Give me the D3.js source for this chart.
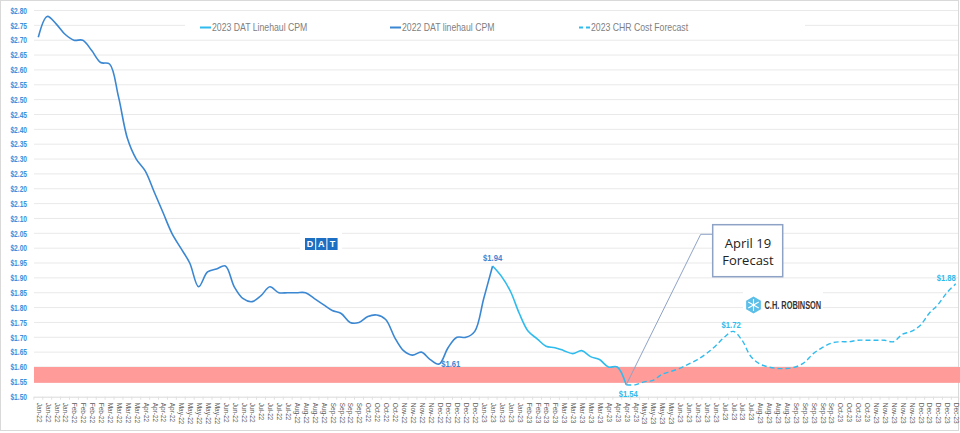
<!DOCTYPE html>
<html><head><meta charset="utf-8">
<script src="https://cdn.jsdelivr.net/npm/d3@7"></script>
<style>body{margin:0;background:#fff}svg{display:block}</style>
</head><body><svg id="c" width="960" height="433"></svg>
<script>
// ---------- DATA ----------
const weekLabels = [
"Jan-22","Jan-22","Jan-22","Jan-22","Feb-22","Feb-22","Feb-22","Feb-22",
"Mar-22","Mar-22","Mar-22","Mar-22","Apr-22","Apr-22","Apr-22","Apr-22",
"May-22","May-22","May-22","May-22","May-22","Jun-22","Jun-22","Jun-22","Jun-22",
"Jul-22","Jul-22","Jul-22","Jul-22","Aug-22","Aug-22","Aug-22","Aug-22",
"Sep-22","Sep-22","Sep-22","Sep-22","Oct-22","Oct-22","Oct-22","Oct-22",
"Nov-22","Nov-22","Nov-22","Nov-22","Dec-22","Dec-22","Dec-22","Dec-22","Dec-22",
"Jan-23","Jan-23","Jan-23","Jan-23","Jan-23","Feb-23","Feb-23","Feb-23","Feb-23",
"Mar-23","Mar-23","Mar-23","Mar-23","Mar-23","Apr-23","Apr-23","Apr-23","Apr-23",
"May-23","May-23","May-23","May-23","Jun-23","Jun-23","Jun-23","Jun-23","Jun-23",
"Jul-23","Jul-23","Jul-23","Jul-23","Aug-23","Aug-23","Aug-23","Aug-23",
"Sep-23","Sep-23","Sep-23","Sep-23","Sep-23","Oct-23","Oct-23","Oct-23","Oct-23",
"Nov-23","Nov-23","Nov-23","Nov-23","Nov-23","Dec-23","Dec-23","Dec-23","Dec-23","Dec-23"
];
// 2022 DAT linehaul CPM, weeks 0..51
const dat2022 = [2.71,2.78,2.755,2.72,2.70,2.70,2.665,2.625,2.62,2.51,2.37,2.30,2.26,2.19,2.12,2.05,
2.00,1.95,1.87,1.92,1.93,1.94,1.87,1.83,1.82,1.84,1.87,1.85,1.85,1.85,1.85,1.83,1.81,1.79,1.78,
1.75,1.75,1.77,1.775,1.76,1.70,1.655,1.64,1.65,1.625,1.61,1.665,1.70,1.70,1.72,1.83,1.94];
// 2023 DAT linehaul CPM, starting at week index 51
const dat2023Start = 51;
const dat2023 = [1.94,1.905,1.855,1.78,1.72,1.695,1.67,1.665,1.655,1.645,1.655,1.635,1.625,1.60,1.60,1.54];
// 2023 CHR cost forecast, starting at week index 66
const forecastStart = 66;
const forecast = [1.54,1.54,1.55,1.555,1.575,1.585,1.595,1.61,1.625,1.645,1.67,1.70,1.72,1.69,1.635,1.61,
1.60,1.595,1.595,1.60,1.615,1.645,1.665,1.68,1.685,1.685,1.69,1.69,1.69,1.69,1.685,1.71,1.72,1.74,1.78,1.81,1.85,1.88];
const yTicks = [1.50,1.55,1.60,1.65,1.70,1.75,1.80,1.85,1.90,1.95,2.00,2.05,2.10,2.15,2.20,2.25,2.30,2.35,2.40,2.45,2.50,2.55,2.60,2.65,2.70,2.75,2.80];
const bandRange = [1.55, 1.60];
const legendNames = ["2023 DAT Linehaul CPM","2022 DAT linehaul CPM","2023 CHR Cost Forecast"];
const annotationLines = ["April 19","Forecast"];

// ---------- SETUP ----------
const C_LIGHT = "#2fbbed", C_DARK = "#3b87d2", C_AXIS = "#3b8fdb";
const FONT = "'Liberation Sans',Arial,sans-serif";
const svg = d3.select("#c");
const W = 960, H = 433;
const x = d3.scalePoint().domain(d3.range(weekLabels.length)).range([38.3, 955.8]);
const y = d3.scaleLinear().domain([1.5, 2.8]).range([396.7, 10.5]);
const plotL = 34, plotR = 958;
const step = x.step();

svg.append("rect").attr("x",0.5).attr("y",0.5).attr("width",W-2).attr("height",430)
  .attr("fill","#fff").attr("stroke","#d9d9d9");

// gridlines
svg.append("g").selectAll("line").data(yTicks.slice(1)).join("line")
  .attr("x1",plotL).attr("x2",plotR).attr("y1",d=>y(d)).attr("y2",d=>y(d))
  .attr("stroke","#e9e9e9").attr("stroke-width",1);

// band
svg.append("rect").attr("x",plotL).attr("width",W-plotL)
  .attr("y",y(bandRange[1])).attr("height",y(bandRange[0])-y(bandRange[1])+1)
  .attr("fill","#ff9c99");

// y axis labels
const yAxis = d3.axisLeft(y).tickValues(yTicks).tickFormat(d3.format("$.2f")).tickSize(0).tickPadding(0);
const gy = svg.append("g").attr("transform","translate(27,0)").call(yAxis);
gy.select(".domain").remove();
gy.selectAll("text").attr("fill",C_AXIS).attr("font-family",FONT).attr("font-size","8.5px")
  .attr("font-weight","bold").attr("transform","scale(0.78,1)");

// x axis
const xAxis = d3.axisBottom(x).tickFormat(i=>weekLabels[i]).tickSize(0).tickPadding(0);
const gx = svg.append("g").attr("transform",`translate(0,${y(1.5)})`).call(xAxis);
gx.select(".domain").attr("stroke","#d9d9d9").attr("d",`M${plotL},0.5H${plotR}`);
gx.selectAll("text").attr("fill","#595959").attr("font-family",FONT).attr("font-size","6.5px")
  .attr("text-anchor","start").attr("transform","translate(0,6) rotate(90)").attr("dy","0.32em").attr("x",0).attr("y",0);
// small tick marks at category boundaries
svg.append("g").selectAll("line").data(d3.range(weekLabels.length+1)).join("line")
  .attr("x1",i=>x(0)-step/2+i*step).attr("x2",i=>x(0)-step/2+i*step)
  .attr("y1",y(1.5)).attr("y2",y(1.5)+3).attr("stroke","#e0e0e0");

// lines
const line = d3.line().x(d=>x(d.i)).y(d=>y(d.v)).curve(d3.curveCatmullRom.alpha(0.5));
const s2022 = dat2022.map((v,i)=>({i,v}));
const s2023 = dat2023.map((v,k)=>({i:dat2023Start+k,v}));
const sFc = forecast.map((v,k)=>({i:forecastStart+k,v}));
svg.append("path").datum(s2022).attr("d",line).attr("fill","none").attr("stroke",C_DARK).attr("stroke-width",1.6);
svg.append("path").datum(s2023).attr("d",line).attr("fill","none").attr("stroke",C_LIGHT).attr("stroke-width",1.6);
svg.append("path").datum(sFc).attr("d",line).attr("fill","none").attr("stroke",C_LIGHT).attr("stroke-width",1.4).attr("stroke-dasharray","5,3");

// data labels
const fmt = d3.format("$.2f");
const labelDefs = [
  {p:s2022[45], col:C_DARK, anchor:"start", dx:2, dy:0},
  {p:s2022[51], col:C_DARK, anchor:"middle", dx:0, dy:-8},
  {p:s2023[s2023.length-1], col:C_LIGHT, anchor:"middle", dx:2, dy:9},
  {p:sFc[12], col:C_LIGHT, anchor:"middle", dx:-2, dy:-7},
  {p:sFc[sFc.length-1], col:C_LIGHT, anchor:"end", dx:0, dy:-6}
];
svg.append("g").selectAll("text").data(labelDefs).join("text")
  .attr("transform",d=>`translate(${x(d.p.i)+d.dx},${y(d.p.v)+d.dy}) scale(0.85,1)`).attr("dy","0.35em")
  .attr("text-anchor",d=>d.anchor).attr("fill",d=>d.col)
  .attr("font-family",FONT).attr("font-size","9px").attr("font-weight","bold")
  .text(d=>fmt(d.p.v));

// legend
const lg = svg.append("g");
lg.append("rect").attr("x",185).attr("y",12).attr("width",620).attr("height",23).attr("fill","#fff");
const legendX = [200,390,579];
const legendCol = [C_LIGHT,C_DARK,C_LIGHT];
legendNames.forEach((n,k)=>{
  lg.append("line").attr("x1",legendX[k]).attr("x2",legendX[k]+11).attr("y1",27.5).attr("y2",27.5)
    .attr("stroke",legendCol[k]).attr("stroke-width",2).attr("stroke-dasharray",k===2?"4,3":null);
  lg.append("text").attr("transform",`translate(${legendX[k]+12},27.5) scale(0.83,1)`).attr("dy","0.35em")
    .attr("fill","#7f7f7f").attr("font-family",FONT).attr("font-size","10.5px").text(n);
});

// DAT logo
const dl = svg.append("g").attr("transform","translate(305,238)");
dl.append("rect").attr("x",-5).attr("y",-6).attr("width",42).attr("height",24).attr("fill","#fff");
["D","A","T"].forEach((c,k)=>{
  dl.append("rect").attr("x",k*11.2).attr("y",0).attr("width",10.2).attr("height",12).attr("fill","#1d6fc4");
  dl.append("text").attr("x",k*11.2+5.1).attr("y",6.3).attr("dy","0.35em").attr("text-anchor","middle")
    .attr("fill","#fff").attr("font-family",FONT).attr("font-weight","bold").attr("font-size","9px").text(c);
});

// C.H. Robinson logo
const cl = svg.append("g").attr("transform","translate(745,293)");
cl.append("rect").attr("x",-2).attr("y",-1).attr("width",80).attr("height",24).attr("fill","#fff");
const hex = d3.range(6).map(k=>[8.5+8.5*Math.cos(Math.PI/3*k+Math.PI/6), 12+8.5*Math.sin(Math.PI/3*k+Math.PI/6)]);
cl.append("polygon").attr("points",hex.map(p=>p.join(",")).join(" ")).attr("fill","#5bbfe8");
d3.range(3).forEach(k=>{
  const a = Math.PI/3*k + Math.PI/2;
  cl.append("line").attr("x1",8.5+6*Math.cos(a)).attr("y1",12+6*Math.sin(a))
    .attr("x2",8.5-6*Math.cos(a)).attr("y2",12-6*Math.sin(a)).attr("stroke","#fff").attr("stroke-width",1.1);
});
cl.append("text").attr("transform","translate(19.5,12.5) scale(0.74,1)").attr("dy","0.35em").attr("fill","#333")
  .attr("font-family",FONT).attr("font-weight","bold").attr("font-size","10px").text("C.H. ROBINSON");

// annotation
const ann = svg.append("g");
const pA = sFc[0];
ann.append("path").attr("d",`M${x(pA.i)},${y(pA.v)}L700.7,234.3H712.7`).attr("fill","none").attr("stroke","#8ea2c6").attr("stroke-width",1);
ann.append("rect").attr("x",712.7).attr("y",224.7).attr("width",70).attr("height",52)
  .attr("fill","#fff").attr("stroke","#8ea2c6").attr("stroke-width",1.5);
annotationLines.forEach((t,k)=>{
  ann.append("text").attr("x",748).attr("y",243.5+k*17).attr("dy","0.35em").attr("text-anchor","middle")
    .attr("fill","#222").attr("font-family","'Open Sans','Liberation Sans',sans-serif").attr("font-size","13px").text(t);
});
</script></body></html>
